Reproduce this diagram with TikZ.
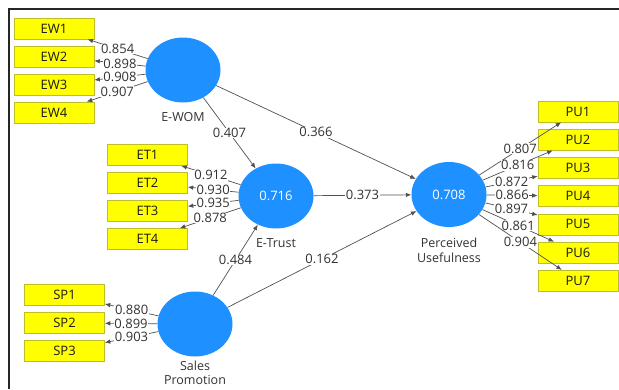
\documentclass[tikz,border=0pt]{standalone}
\usepackage{fontspec}
\setmainfont{Open Sans}
\usetikzlibrary{shapes.geometric,arrows.meta}
\definecolor{lvblue}{RGB}{30,144,255}
\definecolor{mvyellow}{RGB}{255,255,0}
\definecolor{mvborder}{RGB}{190,190,40}
\definecolor{txt}{RGB}{50,50,50}
\definecolor{ln}{RGB}{80,80,80}
\tikzset{
  lv/.style={ellipse,fill=lvblue,draw=none,minimum width=75pt,minimum height=65pt,inner sep=0pt,text=white,font=\fontsize{13}{15}\selectfont},
  lvlab/.style={text=txt,font=\fontsize{12.5}{15}\selectfont,inner sep=0pt,align=center},
  mv/.style={rectangle,fill=mvyellow,draw=mvborder,line width=0.6pt,minimum width=80pt,minimum height=21pt,inner sep=0pt,text=black!90,font=\fontsize{13}{15}\selectfont},
  ld/.style={draw=ln,line width=0.7pt,-{Latex[length=5.5pt,width=4.5pt]}},
  lbl/.style={fill=white,text=txt,inner sep=0.6pt,font=\fontsize{13}{15}\selectfont},
  frame/.style={draw=black!85,line width=2pt}
}
\begin{document}
\begin{tikzpicture}[x=1pt,y=-1pt]
\useasboundingbox (0,0) rectangle (619,389);
\coordinate (fa) at (9,389);
\coordinate (fb) at (9,9);
\coordinate (fc) at (619,9);
\draw[frame] (fa) -- (fb) -- (fc);

% latent variables
\node[lv] (ewom) at (183,70) {};
\node[lvlab] (ewomlab) at (183,117) {E-WOM};
\node[lv] (etrust) at (276,196) {0.716};
\node[lvlab] (etrustlab) at (276,243) {E-Trust};
\node[lv] (pu) at (449,194.5) {0.708};
\node[lvlab] (pulab) at (449,250) {Perceived\\Usefulness};
\node[lv] (sp) at (195,324) {};
\node[lvlab,font=\fontsize{12.5}{14}\selectfont] (splab) at (195,372.5) {Sales\\Promotion};

% indicators
\foreach \i in {1,...,4} {
  \node[mv] (ew\i) at (54,{28.5+28*(\i-1)}) {EW\i};
  \node[mv] (et\i) at (147.5,{155+28*(\i-1)}) {ET\i};
}
\foreach \i in {1,...,7} {
  \node[mv] (pu\i) at (578,{111.5+28.2*(\i-1)}) {PU\i};
}
\foreach \i in {1,...,3} {
  \node[mv] (sp\i) at (64.5,{295+28*(\i-1)}) {SP\i};
}

% outer loadings
\draw[ld] (ewom) -- node[lbl] {0.854} (ew1);
\draw[ld] (ewom) -- node[lbl] {0.898} (ew2);
\draw[ld] (ewom) -- node[lbl] {0.908} (ew3);
\draw[ld] (ewom) -- node[lbl] {0.907} (ew4);

\draw[ld] (etrust) -- node[lbl] {0.912} (et1);
\draw[ld] (etrust) -- node[lbl] {0.930} (et2);
\draw[ld] (etrust) -- node[lbl] {0.935} (et3);
\draw[ld] (etrust) -- node[lbl] {0.878} (et4);

\draw[ld] (sp) -- node[lbl] {0.880} (sp1);
\draw[ld] (sp) -- node[lbl] {0.899} (sp2);
\draw[ld] (sp) -- node[lbl] {0.903} (sp3);

\draw[ld] (pu) -- node[lbl] {0.807} (pu1);
\draw[ld] (pu) -- node[lbl] {0.816} (pu2);
\draw[ld] (pu) -- node[lbl] {0.872} (pu3);
\draw[ld] (pu) -- node[lbl] {0.866} (pu4);
\draw[ld] (pu) -- node[lbl] {0.897} (pu5);
\draw[ld] (pu) -- node[lbl] {0.861} (pu6);
\draw[ld] (pu) -- node[lbl] {0.904} (pu7);

% structural paths
\draw[ld] (ewom) -- node[lbl] {0.407} (etrust);
\draw[ld] (ewom) -- node[lbl] {0.366} (pu);
\draw[ld] (etrust) -- node[lbl] {0.373} (pu);
\draw[ld] (sp) -- node[lbl] {0.484} (etrust);
\draw[ld] (sp) -- node[lbl] {0.162} (pu);
\end{tikzpicture}
\end{document}
